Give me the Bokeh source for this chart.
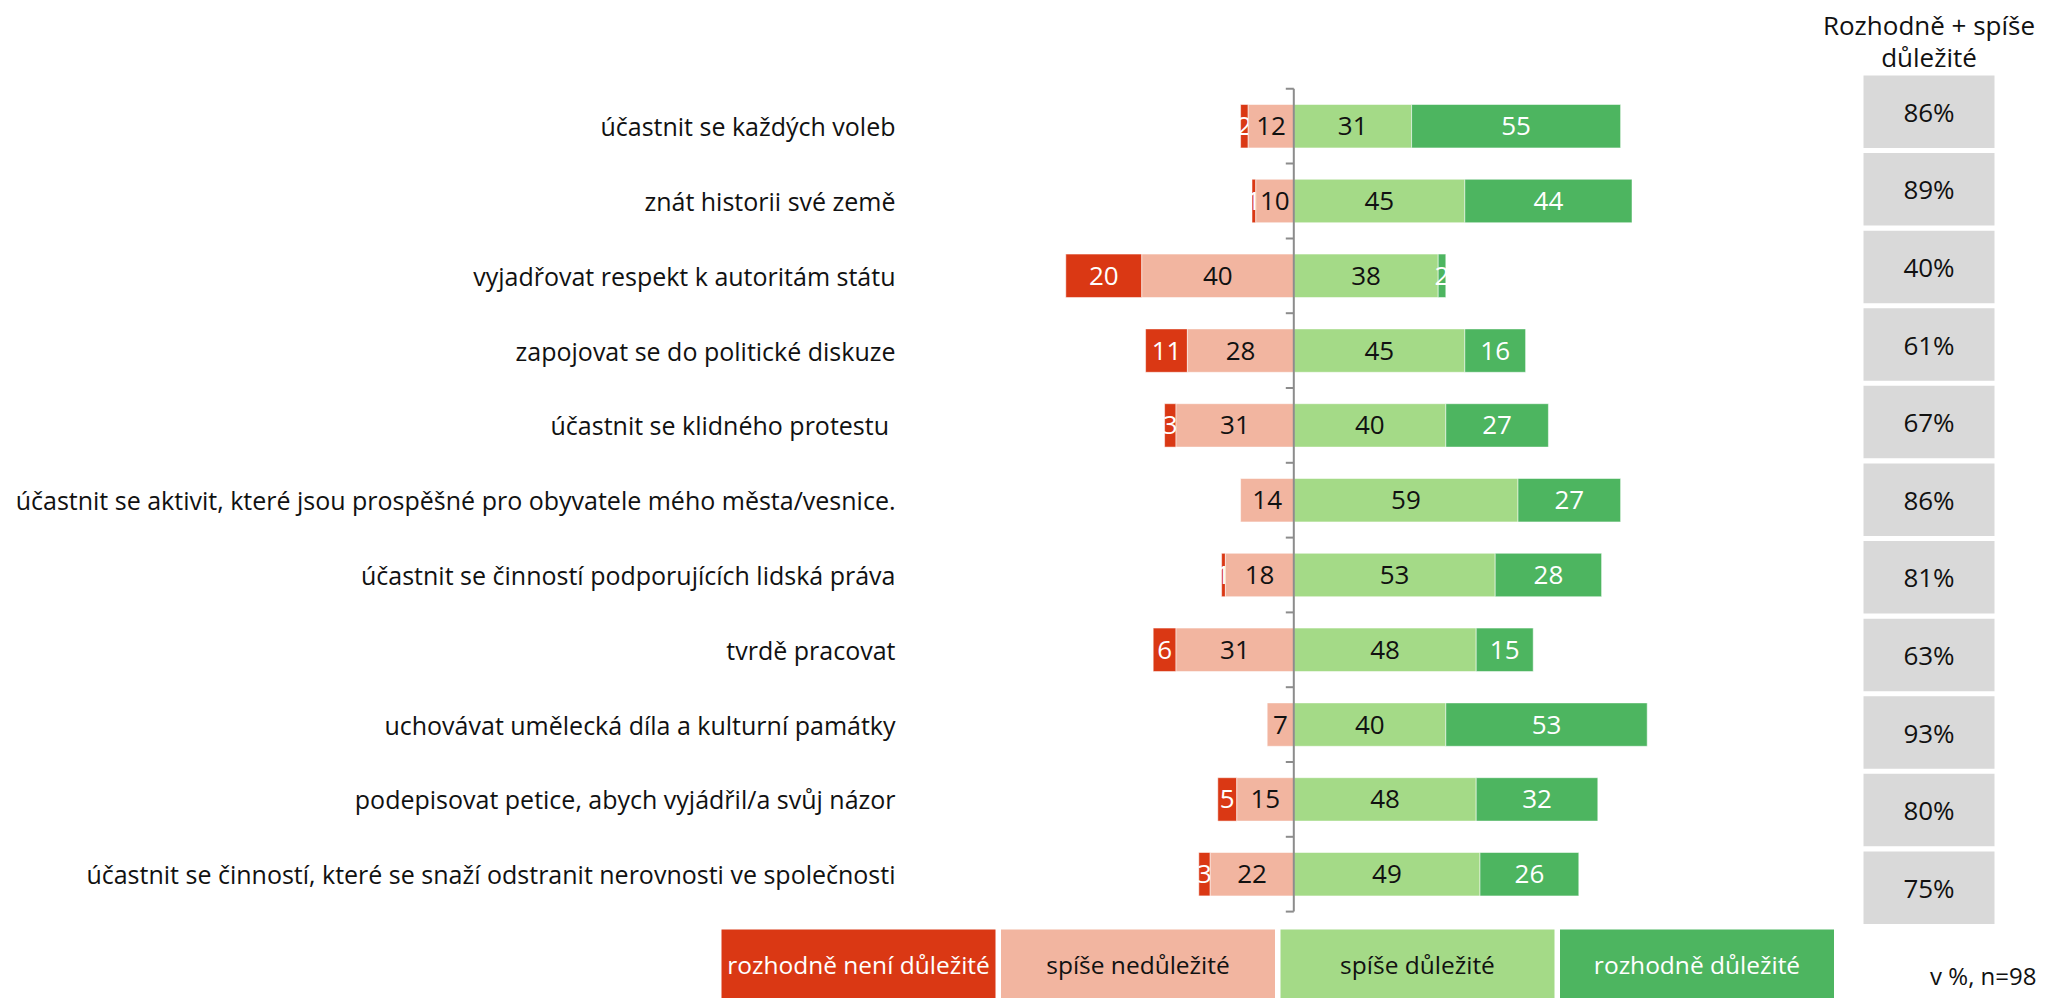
import numpy as np
from bokeh.plotting import figure
from bokeh.models import Range1d, ColumnDataSource
from bokeh.core.properties import value
from bokeh.embed import file_html
from bokeh.resources import INLINE

# ---------------- data ----------------
categories = [
    "účastnit se každých voleb",
    "znát historii své země",
    "vyjadřovat respekt k autoritám státu",
    "zapojovat se do politické diskuze",
    "účastnit se klidného protestu ",
    "účastnit se aktivit, které jsou prospěšné pro obyvatele mého města/vesnice.",
    "účastnit se činností podporujících lidská práva",
    "tvrdě pracovat",
    "uchovávat umělecká díla a kulturní památky",
    "podepisovat petice, abych vyjádřil/a svůj názor",
    "účastnit se činností, které se snaží odstranit nerovnosti ve společnosti",
]
def_not = [2, 1, 20, 11, 3, 0, 1, 6, 0, 5, 3]
rather_not = [12, 10, 40, 28, 31, 14, 18, 31, 7, 15, 22]
rather_yes = [31, 45, 38, 45, 40, 59, 53, 48, 40, 48, 49]
def_yes = [55, 44, 2, 16, 27, 27, 28, 15, 53, 32, 26]
totals = [86, 89, 40, 61, 67, 86, 81, 63, 93, 80, 75]
legend_labels = ["rozhodně není důležité", "spíše nedůležité", "spíše důležité", "rozhodně důležité"]
header_lines = ["Rozhodně + spíše", "důležité"]
note = "v %, n=98"

# ---------------- styles / layout ----------------
colors = ["#DA3814", "#F2B5A0", "#A4DA87", "#4DB560"]
label_colors = ["white", "#111111", "#111111", "white"]
FONT = value("Open Sans")
W, H = 2039, 998
PX_PER_PCT = 3.8
ZERO_PX = 1293.3
ROW_PX = 74.8
ROW0_PX = 125.7


def px_x(px):
    return (px - ZERO_PX) / PX_PER_PCT


def px_y(py):
    return (ROW0_PX - py) / ROW_PX


p = figure(width=W, height=H,
           x_range=Range1d(px_x(0), px_x(W)),
           y_range=Range1d(px_y(H), px_y(0)),
           x_axis_type=None, y_axis_type=None,
           output_backend="svg", toolbar_location=None, min_border=0)
p.grid.visible = False
p.outline_line_color = None
p.background_fill_color = "white"
p.border_fill_color = "white"

n = len(categories)
ys = -np.arange(n, dtype=float)
dn = np.array(def_not, float)
rn = np.array(rather_not, float)
ry = np.array(rather_yes, float)
dy = np.array(def_yes, float)

segments = [
    (-(rn + dn), -rn, def_not),
    (-rn, np.zeros(n), rather_not),
    (np.zeros(n), ry, rather_yes),
    (ry, ry + dy, def_yes),
]
for k, (lft, rgt, vals) in enumerate(segments):
    p.hbar(y=ys, left=lft, right=rgt, height=0.58, fill_color=colors[k],
           line_color="white", line_alpha=0.5, line_width=1)
    mask = np.array(vals) > 0
    src = ColumnDataSource(dict(x=((lft + rgt) / 2)[mask], y=ys[mask],
                                t=[str(v) for v, m in zip(vals, mask) if m]))
    p.text(x="x", y="y", text="t", source=src, text_align="center",
           text_baseline="middle", text_font=FONT, text_font_size="26px",
           text_color=label_colors[k])

# axis line at zero with ticks between categories
tick_y = 0.5 - np.arange(n + 1)
p.segment(x0=[0], y0=[tick_y[0]], x1=[0], y1=[tick_y[-1]], line_color="#8C8C8C", line_width=2)
p.segment(x0=np.full(n + 1, -8 / PX_PER_PCT), y0=tick_y, x1=np.zeros(n + 1), y1=tick_y,
          line_color="#8C8C8C", line_width=2)

# category labels
p.text(x=np.full(n, px_x(895)), y=ys, text=categories, text_align="right",
       text_baseline="middle", text_font=FONT, text_font_size="25px", text_color="#111111")

# right summary column
box_cx = px_x(1928.5)
box_w = 131 / PX_PER_PCT
box_y = np.array([px_y(111.2 + 77.6 * k) for k in range(n)])
p.rect(x=np.full(n, box_cx), y=box_y, width=box_w, height=72.5 / ROW_PX,
       fill_color="#D9D9D9", line_color=None)
p.text(x=np.full(n, box_cx), y=box_y, text=[f"{t}%" for t in totals], text_align="center",
       text_baseline="middle", text_font=FONT, text_font_size="26px", text_color="#111111")
p.text(x=[box_cx, box_cx], y=[px_y(24), px_y(56)], text=header_lines, text_align="center",
       text_baseline="middle", text_font=FONT, text_font_size="26px", text_color="#111111")

# legend boxes
leg_w = 274
leg_cx = np.array([px_x(721 + k * 279.5 + leg_w / 2) for k in range(4)])
leg_cy = px_y(963.5)
p.rect(x=leg_cx, y=np.full(4, leg_cy), width=leg_w / PX_PER_PCT, height=69 / ROW_PX,
       fill_color=colors, line_color=None)
p.text(x=leg_cx, y=np.full(4, leg_cy), text=legend_labels, text_align="center",
       text_baseline="middle", text_font=FONT, text_font_size="24.5px", text_color=label_colors)

# footnote
p.text(x=[px_x(2036)], y=[px_y(975)], text=[note], text_align="right",
       text_baseline="middle", text_font=FONT, text_font_size="24px", text_color="#111111")

open("out.html", "w").write(file_html(p, INLINE))
